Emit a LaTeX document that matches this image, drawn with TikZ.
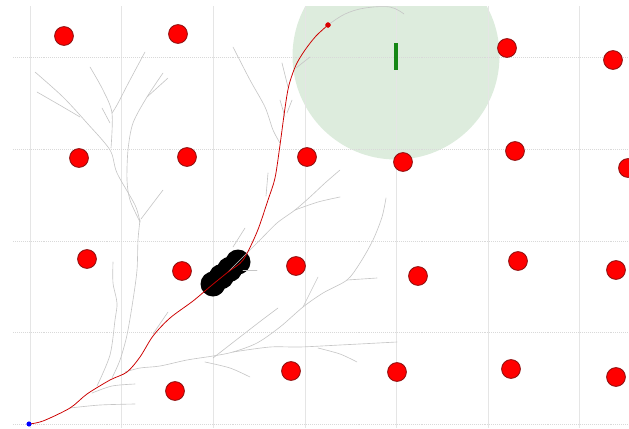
\documentclass[tikz,border=0pt]{standalone}
\definecolor{goalfill}{RGB}{221,236,221}
\definecolor{goalbar}{RGB}{20,135,20}
\definecolor{obsedge}{RGB}{140,15,15}

\begin{document}
\begin{tikzpicture}[
  x=0.025cm, y=-0.025cm,
  gridline/.style={gray!20, line width=0.4pt},
  obstacle/.style={circle, draw=obsedge, fill=red, line width=0.6pt,
    minimum size=0.47cm, inner sep=0pt},
  branch/.style={gray!45, line width=0.45pt, line join=round, line cap=round},
  route/.style={red!80!black, line width=0.55pt, line join=round},
  startdot/.style={circle, fill=blue, minimum size=0.12cm, inner sep=0pt},
  enddot/.style={circle, fill=red!85!black, minimum size=0.13cm, inner sep=0pt}
]
  \useasboundingbox (0,0) rectangle (629,428);
  \begin{scope}
    \clip (13,6) rectangle (629,428);
    \fill[goalfill] (396,56) circle (103.5);
    \foreach \gx in {30,121.6,213.2,304.8,396.4,488,579.6}
      \draw[gridline] (\gx,6) -- (\gx,428);
    \foreach \gy in {57.6,149.2,240.8,332.4,424}
      \draw[gridline, densely dotted, gray!30] (13,\gy) -- (629,\gy);

    \foreach \t in {0,0.333,0.667,1}
      \fill[black] ({213+25*\t},{284-22*\t}) circle (12.5);

    \node[startdot] (start) at (29,424) {};
    \node[enddot] (reached) at (328,25) {};

    \draw[branch] plot[smooth, tension=0.5] coordinates {(97,386) (110,355) (115,320) (117,303) (113,283) (113,262)};
    \draw[branch] plot[smooth, tension=0.5] coordinates {(112,378) (120,360) (127,335) (133,300) (137,270) (138,240) (140,220)};
    \draw[branch] plot[smooth, tension=0.5] coordinates {(140,222) (135,205) (117,173) (110,150) (87,123) (63,97) (35,72)};
    \draw[branch] plot[smooth, tension=0.5] coordinates {(140,222) (130,200) (127,180) (128,150) (133,123) (147,97) (163,73)};
    \draw[branch] (147,97) -- (168,78);
    \draw[branch] plot[smooth, tension=0.5] coordinates {(37,92) (63,107) (80,117)};
    \draw[branch] plot[smooth, tension=0.5] coordinates {(111,148) (112,113) (103,90) (90,67)};
    \draw[branch] plot[smooth, tension=0.5] coordinates {(112,113) (117,105) (130,80) (145,52)};
    \draw[branch] (141,219) -- (163,190);
    \draw[branch] (102,108) -- (110,123);

    \draw[branch] plot[smooth, tension=0.5] coordinates {(280,143) (273,130) (265,107) (250,80) (233,47)};
    \draw[branch] (288,87) -- (282,63);
    \draw[branch] (285,117) -- (280,100);
    \draw[branch] (287,113) -- (292,100);
    \draw[branch] (268,173) -- (266,196);
    \draw[branch] (296,68) -- (310,57);
    \draw[branch] plot[smooth, tension=0.6] coordinates {(reached.center) (345,14) (365,8) (390,7) (404,14)};

    \draw[branch] plot[smooth, tension=0.5] coordinates {(228,272) (243,257) (260,240) (277,223) (295,210) (310,197) (325,183) (340,170)};
    \draw[branch] plot[smooth, tension=0.5] coordinates {(295,210) (318,202) (340,197)};
    \draw[branch] (233,247) -- (245,228);
    \draw[branch] (243,270) -- (257,270);

    \draw[branch] plot[smooth, tension=0.5] coordinates {(125,372) (140,368) (160,366) (187,360) (213,356) (233,352) (257,343) (280,327) (303,307) (323,293) (347,280) (360,263) (373,240) (382,217) (386,198)};
    \draw[branch] (347,280) -- (377,278);
    \draw[branch] (303,307) -- (318,277);
    \draw[branch] plot[smooth, tension=0.5] coordinates {(213,358) (240,337) (262,320) (278,308)};
    \draw[branch] plot[smooth, tension=0.5] coordinates {(233,352) (270,347) (300,347) (340,345) (397,342)};
    \draw[branch] plot[smooth, tension=0.5] coordinates {(318,348) (340,354) (357,362)};
    \draw[branch] plot[smooth, tension=0.5] coordinates {(205,362) (230,368) (250,377)};
    \draw[branch] plot[smooth, tension=0.5] coordinates {(70,408) (100,405) (135,404)};
    \draw[branch] plot[smooth, tension=0.5] coordinates {(92,393) (112,386) (135,384)};
    \draw[branch] (153,334) -- (168,312);

    \draw[route] plot[smooth, tension=0.5] coordinates {(start.center) (43,421) (70,408) (87,394) (110,380) (127,372) (140,357) (153,336) (170,318) (193,301) (212,285) (228,272) (243,260) (257,232) (268,200) (275,178) (280,145) (285,108) (289,85) (296,65) (305,50) (316,36) (reached.center)};

    \foreach \ox/\oy [count=\i] in {64/36, 178/34, 507/48, 613/60, 79/158, 187/157, 307/157, 403/162, 515/151, 628/168, 87/259, 182/271, 296/266, 418/276, 518/261, 616/270, 175/391, 291/371, 397/372, 511/369, 616/377}
      \node[obstacle] (obs\i) at (\ox,\oy) {};

    \node[startdot] at (start) {};
    \node[enddot] at (reached) {};
    \draw[goalbar, line width=2.4pt] (396,43) -- (396,70);
  \end{scope}
\end{tikzpicture}
\end{document}
